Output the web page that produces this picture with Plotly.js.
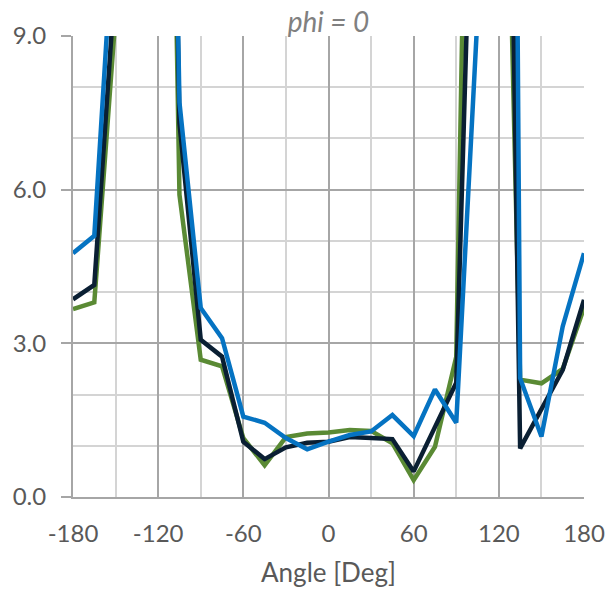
<!DOCTYPE html>
<html>
<head>
<meta charset="utf-8">
<script src="https://cdn.plot.ly/plotly-3.0.1.min.js"></script>
<style>html,body{margin:0;padding:0;background:#fff;}#chart{width:609px;height:595px;}</style>
</head>
<body>
<div id="chart"></div>
<script>
var angles = [-180,-165,-150,-135,-120,-105,-90,-75,-60,-45,-30,-15,0,15,30,45,60,75,90,105,120,135,150,165,180];
var seriesGreen = [3.67,3.80,9.4,40,30,5.9,2.68,2.55,1.15,0.62,1.17,1.24,1.26,1.31,1.29,1.05,0.33,0.98,2.74,25.6,20,2.29,2.22,2.5,3.69];
var seriesBlack = [3.86,4.14,10.2,40,30,7.3,3.07,2.74,1.08,0.74,0.97,1.06,1.08,1.17,1.15,1.13,0.50,1.38,2.23,16.4,27.6,0.95,1.72,2.48,3.85];
var seriesBlue  = [4.76,5.10,11.8,40,30,7.7,3.69,3.10,1.57,1.45,1.15,0.93,1.08,1.21,1.28,1.60,1.19,2.10,1.45,9.4,60,2.32,1.18,3.33,4.76];
var xTicks = [-180,-120,-60,0,60,120,180];
var yTicks = [0,3,6,9];
var yTickLabels = ['0.0','3.0','6.0','9.0'];

var font = 'Lato, "Open Sans", sans-serif';
function tr(y, color){
  return {x: angles, y: y, type:'scatter', mode:'lines',
          line:{color: color, width:4.5}, hoverinfo:'skip', showlegend:false};
}
var data = [tr(seriesGreen,'#5A8A34'), tr(seriesBlack,'#0A1F33'), tr(seriesBlue,'#0573C2')];

var layout = {
  width:609, height:595,
  margin:{l:73, r:25, t:36, b:98},
  paper_bgcolor:'#fff', plot_bgcolor:'#fff',
  font:{family:font, size:24, color:'#595959'},
  title:{text:'<i>phi = 0</i>', font:{family:font, size:28, color:'#808080'},
         xref:'paper', x:0.5, xanchor:'center', yref:'container', y:0.962, yanchor:'middle'},
  xaxis:{range:[-180,180], tickvals:xTicks, ticktext:xTicks.map(String),
         showgrid:true, gridcolor:'#a6a6a6', gridwidth:2,
         minor:{dtick:30, tick0:0, showgrid:true, gridcolor:'#d4d4d4', gridwidth:2, ticks:''},
         zeroline:false, showline:true, linecolor:'#a6a6a6', linewidth:2,
         ticks:'', ticklabelstandoff:14,
         tickfont:{family:font, size:24, color:'#595959'},
         title:{text:'Angle [Deg]', font:{family:font, size:26, color:'#595959'}, standoff:18}},
  yaxis:{range:[0,9], tickvals:yTicks, ticktext:yTickLabels,
         showgrid:true, gridcolor:'#a6a6a6', gridwidth:2,
         minor:{dtick:1, tick0:0, showgrid:true, gridcolor:'#d4d4d4', gridwidth:2, ticks:''},
         zeroline:false, showline:true, linecolor:'#a6a6a6', linewidth:2,
         ticks:'outside', ticklen:10, tickwidth:2, tickcolor:'#a6a6a6', ticklabelstandoff:10,
         tickfont:{family:font, size:24, color:'#595959'}}
};
Plotly.newPlot('chart', data, layout, {displayModeBar:false, staticPlot:true});
</script>
</body>
</html>
